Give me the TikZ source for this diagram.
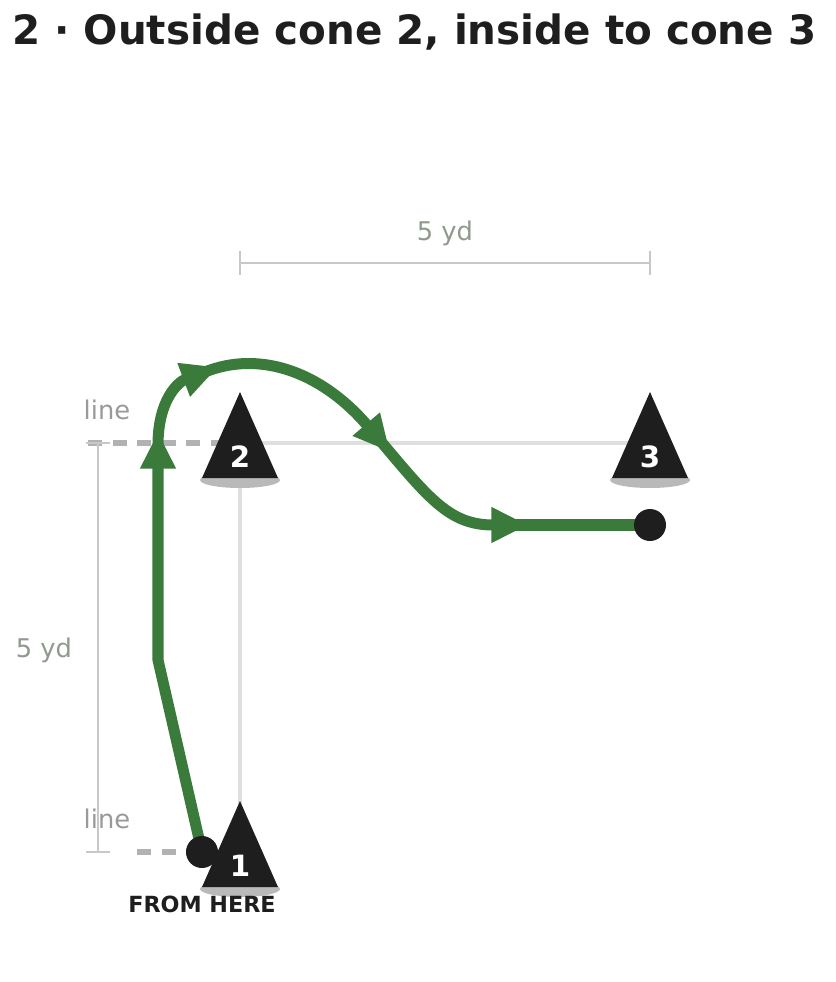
\documentclass[tikz,border=0pt]{standalone}
\usepackage{fontspec}
\setmainfont{DejaVu Sans}
\usepackage{tikz}
\usetikzlibrary{arrows.meta,calc,positioning}
\definecolor{routegreen}{HTML}{3A7A3A}
\definecolor{ink}{HTML}{1E1E1E}
\definecolor{dimgray}{HTML}{C8C8C8}
\definecolor{labgray}{HTML}{8E9A8C}
\tikzset{
    dimline/.style={dimgray, line width=2.4pt},
    dimlabel/.style={text=labgray, font=\fontsize{22}{22}\selectfont},
    route/.style={routegreen, line width=9.4pt},
    rtip/.style={-{Triangle[length=11mm,width=10mm]}},
    dot/.style={circle, fill=ink, minimum size=0.96cm, inner sep=0pt}
}
\newcommand{\conemark}[4]{% name, x, y of base, label
  \fill[gray!55] (#2,#3+2) ellipse [x radius=40, y radius=8];
  \fill[ink] (#2,#3-86) -- (#2+38,#3) -- (#2-38,#3) -- cycle;
  \node[text=white, font=\bfseries\fontsize{25}{25}\selectfont] (#1) at (#2,#3-21) {#4};
}
\begin{document}
\begin{tikzpicture}[x=0.03cm,y=-0.03cm]
\useasboundingbox (0,0) rectangle (835,982);
% title
\node[anchor=west, text=ink, font=\bfseries\fontsize{34.5}{36}\selectfont] (title) at (8,32) {2 · Outside cone 2, inside to cone 3};
% field lines
\draw[gray!25, line width=3.4pt] (240,443) -- (650,443);
\draw[gray!25, line width=3.4pt] (240,443) -- (240,852);
\draw[gray!60, line width=5pt, dash pattern=on 12pt off 9pt] (88,443) -- (222,443);
\draw[gray!60, line width=5pt, dash pattern=on 12pt off 9pt] (137,852) -- (190,852);
% dimensions
\draw[dimline] (240,263) -- (650,263);
\draw[dimline] (240,251) -- (240,275); \draw[dimline] (650,251) -- (650,275);
\node[dimlabel] (topdim) at (445,233) {5 yd};
\draw[dimline] (98,443) -- (98,852);
\draw[dimline] (86,443) -- (110,443); \draw[dimline] (86,852) -- (110,852);
\node[dimlabel] (leftdim) at (44,650) {5 yd};
\node[dimlabel, text=gray!80] (lineA) at (107,410) {line};
\node[dimlabel, text=gray!80] (lineB) at (107,819) {line};
% cones
\conemark{c2}{240}{478}{2}
\conemark{c3}{650}{478}{3}
\conemark{c1}{240}{887}{1}
% route
\coordinate (bend) at (158,660);
\coordinate (up) at (158,432);
\coordinate (round) at (218,367);
\coordinate (dive) at (390,452);
\coordinate (flat) at (528,525);
\draw[route, rtip, shorten <=8pt] (202,852) -- (bend) -- (up);
\draw[route, rtip] (158,445) .. controls (158,400) and (178,382) .. (round);
\draw[route, rtip] (198,375) .. controls (255,348) and (320,370) .. (dive);
\draw[route, rtip] (378,438) .. controls (430,500) and (450,525) .. (flat);
\draw[route] (515,525) -- (650,525);
\node[dot] (start) at (202,852) {};
\node[dot] (finish) at (650,525) {};
\node[text=ink, font=\bfseries\fontsize{19}{19}\selectfont] (from) at (202,904) {FROM HERE};
\end{tikzpicture}
\end{document}
